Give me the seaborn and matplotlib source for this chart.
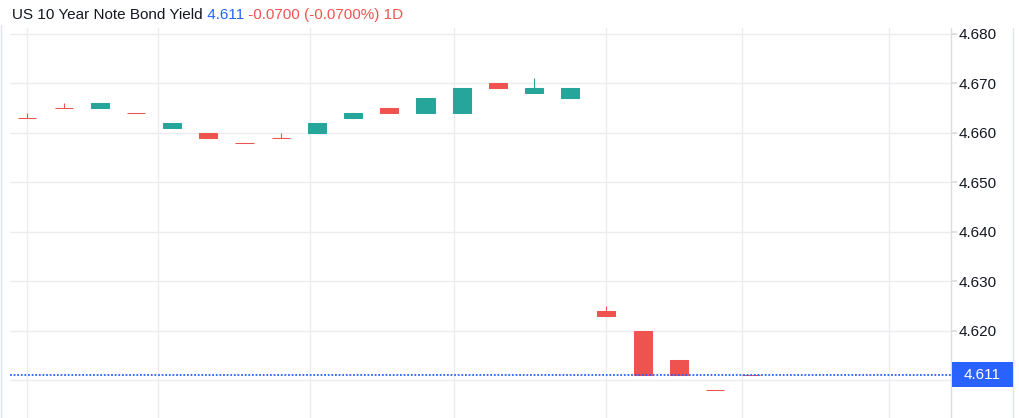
import numpy as np
import pandas as pd
import seaborn as sns
import matplotlib.pyplot as plt
from matplotlib.patches import Rectangle
from matplotlib.lines import Line2D

# candle data, one row per bar
opens = [4.663, 4.665, 4.665, 4.664, 4.661, 4.660, 4.658, 4.659, 4.660, 4.663, 4.665,
         4.664, 4.664, 4.670, 4.668, 4.667, 4.624, 4.620, 4.614, 4.608, 4.611]
closes = [4.663, 4.665, 4.666, 4.664, 4.662, 4.659, 4.658, 4.659, 4.662, 4.664, 4.664,
          4.667, 4.669, 4.669, 4.669, 4.669, 4.623, 4.611, 4.611, 4.608, 4.611]
highs = [4.664, 4.666, 4.666, 4.664, 4.662, 4.660, 4.658, 4.660, 4.662, 4.664, 4.665,
         4.667, 4.669, 4.670, 4.671, 4.669, 4.625, 4.620, 4.614, 4.608, 4.611]
lows = [4.663, 4.665, 4.665, 4.664, 4.661, 4.659, 4.658, 4.659, 4.660, 4.663, 4.664,
        4.664, 4.664, 4.669, 4.668, 4.667, 4.623, 4.611, 4.611, 4.608, 4.611]
y_ticks = [4.610, 4.620, 4.630, 4.640, 4.650, 4.660, 4.670, 4.680]
time_grid = [0, 3.6, 7.8, 11.8, 16.0, 19.75, 23.8]  # vertical time gridlines (bar units)
last_price = 4.611
title_parts = ['US 10 Year Note Bond Yield', ' 4.611', ' -0.0700 (-0.0700%) 1D']

up_col = '#26a69a'
down_col = '#ef5350'
blue = '#2962ff'
grid_col = '#ebedf1'

df = pd.DataFrame({'open': opens, 'close': closes, 'high': highs, 'low': lows})
df['x'] = np.arange(len(df))
df['color'] = np.where(df['close'] > df['open'], up_col, down_col)

sns.set_theme(style='white')
plt.rcParams['font.family'] = ['Liberation Sans', 'DejaVu Sans']

fig = plt.figure(figsize=(10.2, 4.18), dpi=100)
ax = fig.add_axes([10 / 1020, 0, 941 / 1020, 390 / 418])

# wicks then bodies
ax.vlines(df['x'], df['low'], df['high'], colors=df['color'], linewidth=0.8, zorder=3)
body_low = df[['open', 'close']].min(axis=1)
body_h = (df['close'] - df['open']).abs()
ax.bar(df['x'], body_h, bottom=body_low, width=0.5, color=df['color'],
       edgecolor=df['color'], linewidth=0.75, zorder=4)

# last price line
ax.axhline(last_price, color=blue, linestyle=(0, (1, 1)), linewidth=1.3, zorder=5)

ax.set_xlim(-0.48, 25.52)
ax.set_ylim(4.6023, 4.6812)
ax.set_xticks(time_grid)
ax.set_xticklabels([])
ax.set_yticks(y_ticks)
# lowest label sits under the price box, so it is left blank
ax.set_yticklabels([''] + [f'{v:.3f}' for v in y_ticks[1:]])
ax.yaxis.tick_right()
ax.tick_params(axis='y', length=4, color='#dcdcdc', labelsize=11, labelcolor='#131722', pad=1.5)
ax.tick_params(axis='x', length=0)
ax.grid(True, color=grid_col, linewidth=1)
ax.set_axisbelow(True)
for side in ['top', 'left', 'bottom']:
    ax.spines[side].set_visible(False)
ax.spines['right'].set_color('#dcdcdc')
ax.spines['right'].set_linewidth(1)

# price label on the axis
fig.canvas.draw()
ypix = ax.transData.transform((0, last_price))[1]
fig.patches.append(Rectangle((952, ypix - 12), 61, 25, transform=None,
                             facecolor=blue, edgecolor='none', zorder=10))
fig.text(982.5 / 1020, ypix / 418, f'{last_price:.3f}', color='white', fontsize=11,
         ha='center', va='center', zorder=11)

# panel borders
fig.add_artist(Line2D([1.5 / 1020, 1.5 / 1020], [0, 393 / 418], color='#e0e3eb', linewidth=1))
fig.add_artist(Line2D([1013.5 / 1020, 1013.5 / 1020], [0, 390 / 418], color='#e0e3eb', linewidth=1))

# title pieces in three colours
t = fig.text(12 / 1020, 1 - 15 / 418, title_parts[0], color='#131722', fontsize=11, va='center')
t = ax.annotate(title_parts[1], xy=(1, 0), xycoords=t, va='bottom', color=blue, fontsize=11)
t = ax.annotate(title_parts[2], xy=(1, 0), xycoords=t, va='bottom', color=down_col, fontsize=11)

fig.savefig('out.png', dpi=100)
